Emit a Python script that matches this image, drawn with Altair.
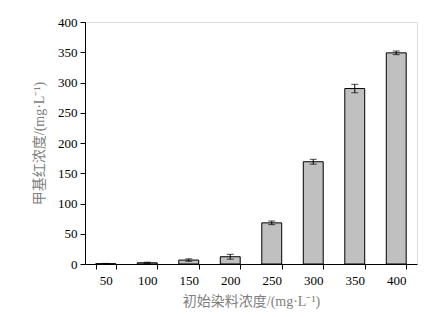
import altair as alt
import pandas as pd

categories = ["50", "100", "150", "200", "250", "300", "350", "400"]
values = [0.5, 2, 6.5, 12, 68, 169, 290, 349]
errors = [0.5, 1, 2, 4, 3, 4, 7, 3]
y_ticks = [0, 50, 100, 150, 200, 250, 300, 350, 400]

df = pd.DataFrame({"x": categories, "y": values, "e": errors})
df["lo"] = df["y"] - df["e"]
df["hi"] = df["y"] + df["e"]

serif = "Liberation Serif"
tfont = "Liberation Serif, Noto Sans CJK SC"
xaxis = alt.Axis(title="初始染料浓度/(mg·L⁻¹)", labelAngle=0, tickBand="extent",
                 domainColor="black", tickColor="black", tickSize=5,
                 labelFont=serif, labelFontSize=13, labelColor="black", labelPadding=5,
                 titleFont=tfont, titleFontSize=14, titleFontWeight="normal",
                 titleColor="#808080", titlePadding=7)
xscale = alt.Scale(paddingInner=0.52, paddingOuter=0.26)
yaxis = alt.Axis(title="甲基红浓度/(mg·L⁻¹)", values=y_ticks, grid=False, labelOverlap=False,
                 domainColor="black", tickColor="black", tickSize=5,
                 labelFont=serif, labelFontSize=13, labelColor="black", labelPadding=3,
                 titleFont=tfont, titleFontSize=14, titleFontWeight="normal",
                 titleColor="#808080", titlePadding=11)
yscale = alt.Scale(domain=[0, 400])

def X():
    return alt.X("x:N", sort=categories, scale=xscale, axis=xaxis)

def Y(f):
    return alt.Y(f, scale=yscale, axis=yaxis)

bars = alt.Chart(df).mark_bar(color="#c0c0c0", stroke="black", strokeWidth=1).encode(
    x=X(), y=Y("y:Q"))
rule = alt.Chart(df).mark_rule(color="black", strokeWidth=1).encode(
    x=X(), y=Y("lo:Q"), y2="hi:Q")
cap_lo = alt.Chart(df).mark_tick(color="black", size=7, thickness=1, orient="horizontal").encode(
    x=X(), y=Y("lo:Q"))
cap_hi = alt.Chart(df).mark_tick(color="black", size=7, thickness=1, orient="horizontal").encode(
    x=X(), y=Y("hi:Q"))

chart = alt.layer(bars, rule, cap_lo, cap_hi).properties(
    width=332, height=242,
    autosize=alt.AutoSizeParams(type="none"),
    padding={"left": 77, "top": 14, "right": 22, "bottom": 53},
).configure_view(stroke=None).configure(background="white")

chart.save("out.html", embed_options={"renderer": "svg", "actions": False})
